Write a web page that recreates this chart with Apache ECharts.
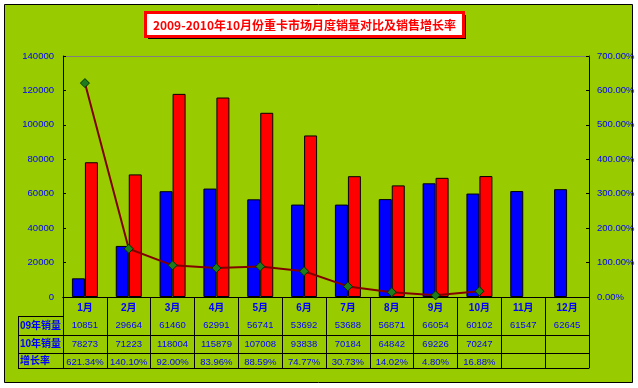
<!DOCTYPE html>
<html>
<head>
<meta charset="utf-8">
<script src="https://cdn.jsdelivr.net/npm/echarts@6/dist/echarts.min.js"></script>
<style>
html,body{margin:0;padding:0;background:#fff;}
#chart{width:638px;height:388px;}
</style>
</head>
<body>
<div id="chart"></div>
<script>
const titleText = '2009-2010年10月份重卡市场月度销量对比及销售增长率';
const months = ['1月','2月','3月','4月','5月','6月','7月','8月','9月','10月','11月','12月'];
const sales09 = [10851, 29664, 61460, 62991, 56741, 53692, 53688, 56871, 66054, 60102, 61547, 62645];
const sales10 = [78273, 71223, 118004, 115879, 107008, 93838, 70184, 64842, 69226, 70247, null, null];
const growth = [621.34, 140.10, 92.00, 83.96, 88.59, 74.77, 30.73, 14.02, 4.80, 16.88, null, null];
const rowLabels = ['09年销量', '10年销量', '增长率'];

const FONT = '"Liberation Sans", Arial, "Noto Sans CJK SC", sans-serif';
const BLUE = '#0000FF';

const chart = echarts.init(document.getElementById('chart'), null, {renderer: 'canvas'});

function fmtPct(v) { return (v === null || v === undefined || v === '') ? '' : Number(v).toFixed(2) + '%'; }
function fmtNum(v) { return (v === null || v === undefined) ? '' : String(v); }

function tableAxis(values, offset, showLine) {
  return {
    type: 'category',
    gridIndex: 0,
    position: 'bottom',
    offset: offset,
    data: values,
    boundaryGap: true,
    axisLine: {show: showLine, lineStyle: {color: '#000', width: 1}},
    axisTick: {show: false},
    axisLabel: {show: true, interval: 0, color: BLUE, fontSize: 9.5, fontFamily: FONT, margin: 5},
    splitLine: {show: false}
  };
}

const option = {
  backgroundColor: '#fff',
  animation: false,
  grid: {left: 63, right: 49, top: 56, bottom: 91, containLabel: false},
  xAxis: [
    {
      type: 'category',
      data: months,
      position: 'bottom',
      boundaryGap: true,
      axisLine: {show: true, lineStyle: {color: '#000', width: 1}},
      axisTick: {show: true, interval: 0, length: 71, lineStyle: {color: '#000', width: 1}},
      axisLabel: {interval: 0, color: BLUE, fontWeight: 'bold', fontSize: 10, fontFamily: FONT, margin: 6},
      splitLine: {show: false}
    },
    tableAxis(sales09.map(fmtNum), 19, true),
    tableAxis(sales10.map(fmtNum), 38, true),
    tableAxis(growth.map(fmtPct), 56, true),
    Object.assign(tableAxis(months.map(() => ''), 71, true), {axisLabel: {show: false}}),
    {
      type: 'category', position: 'top', data: months,
      axisLine: {show: true, lineStyle: {color: '#808080', width: 1}},
      axisTick: {show: false}, axisLabel: {show: false}, splitLine: {show: false}
    }
  ],
  yAxis: [
    {
      type: 'value', min: 0, max: 140000, interval: 20000, position: 'left',
      axisLine: {show: true, lineStyle: {color: '#000', width: 1}},
      axisTick: {show: true, inside: true, length: 3, lineStyle: {color: '#000'}},
      axisLabel: {color: BLUE, fontSize: 9.5, fontFamily: FONT, margin: 9, formatter: v => String(v)},
      splitLine: {show: false}
    },
    {
      type: 'value', min: 0, max: 700, interval: 100, position: 'right',
      axisLine: {show: true, lineStyle: {color: '#000', width: 1}},
      axisTick: {show: true, inside: true, length: 3, lineStyle: {color: '#000'}},
      axisLabel: {color: BLUE, fontSize: 9.5, fontFamily: FONT, margin: 8, formatter: v => v.toFixed(2) + '%'},
      splitLine: {show: false}
    }
  ],
  series: [
    {
      name: '09年销量', type: 'bar', xAxisIndex: 0, yAxisIndex: 0, data: sales09,
      barWidth: 13, barGap: '0%',
      itemStyle: {color: BLUE, borderColor: '#000', borderWidth: 1}
    },
    {
      name: '10年销量', type: 'bar', xAxisIndex: 0, yAxisIndex: 0, data: sales10,
      barWidth: 13, barGap: '0%',
      itemStyle: {color: '#FF0000', borderColor: '#000', borderWidth: 1}
    },
    {
      name: '增长率', type: 'line', xAxisIndex: 0, yAxisIndex: 1, data: growth,
      symbol: 'diamond', symbolSize: 9, z: 5,
      lineStyle: {color: '#800000', width: 2},
      itemStyle: {color: '#1E7B1E', borderColor: '#003300', borderWidth: 1}
    }
  ],
  graphic: [
    {type: 'rect', z: -100, shape: {x: 4.5, y: 4.5, width: 628, height: 378}, style: {fill: '#99CC00', stroke: '#000', lineWidth: 1}, silent: true},
    {type: 'line', z: 10, shape: {x1: 18.5, y1: 316, x2: 18.5, y2: 368.5}, style: {stroke: '#000', lineWidth: 1}},
    {type: 'line', z: 10, shape: {x1: 18, y1: 316.5, x2: 63, y2: 316.5}, style: {stroke: '#000', lineWidth: 1}},
    {type: 'line', z: 10, shape: {x1: 18, y1: 335.5, x2: 63, y2: 335.5}, style: {stroke: '#000', lineWidth: 1}},
    {type: 'line', z: 10, shape: {x1: 18, y1: 353.5, x2: 63, y2: 353.5}, style: {stroke: '#000', lineWidth: 1}},
    {type: 'line', z: 10, shape: {x1: 18, y1: 368.5, x2: 63, y2: 368.5}, style: {stroke: '#000', lineWidth: 1}},
    {type: 'text', z: 10, style: {x: 20, y: 326, text: rowLabels[0], fill: BLUE, font: 'bold 10px ' + FONT, textVerticalAlign: 'middle', verticalAlign: 'middle'}},
    {type: 'text', z: 10, style: {x: 20, y: 344.5, text: rowLabels[1], fill: BLUE, font: 'bold 10px ' + FONT, textVerticalAlign: 'middle', verticalAlign: 'middle'}},
    {type: 'text', z: 10, style: {x: 20, y: 361, text: rowLabels[2], fill: BLUE, font: 'bold 10px ' + FONT, textVerticalAlign: 'middle', verticalAlign: 'middle'}},
    {type: 'rect', z: 10, shape: {x: 148, y: 15, width: 318, height: 24}, style: {fill: '#000'}},
    {type: 'rect', z: 11, shape: {x: 145.5, y: 12.5, width: 318, height: 24}, style: {fill: '#fff', stroke: '#FF0000', lineWidth: 3}},
    {type: 'text', z: 12, style: {x: 304.5, y: 25, text: titleText, fill: '#FF0000', font: 'bold 12px "Noto Sans CJK SC", sans-serif', align: 'center', textAlign: 'center', verticalAlign: 'middle', textVerticalAlign: 'middle'}}
  ]
};
chart.setOption(option);
</script>
</body>
</html>
